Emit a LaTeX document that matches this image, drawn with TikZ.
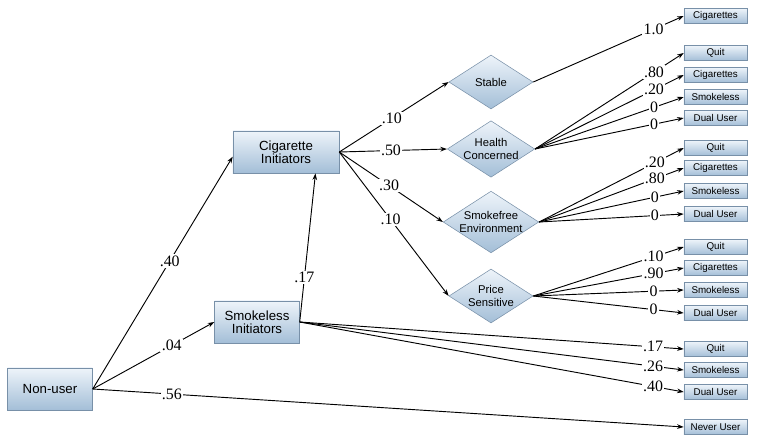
\documentclass[tikz,border=0pt]{standalone}
\usepackage{fontspec}
\setmainfont{Liberation Serif}
\setsansfont{Liberation Sans}
\usepackage{tikz}
\usetikzlibrary{positioning,shapes.geometric,arrows.meta}
\definecolor{boxtop}{HTML}{EEF4FA}
\definecolor{boxbot}{HTML}{A3BED7}
\definecolor{boxline}{HTML}{7890A8}

\begin{document}
\begin{tikzpicture}[x=0.0265cm,y=-0.0265cm,
    box/.style={draw=boxline,top color=boxtop,bottom color=boxbot,align=center,inner sep=0pt,
      minimum width=2.25cm,minimum height=1.12cm,font=\sffamily\fontsize{10}{9.5}\selectfont},
    state/.style={diamond,draw=boxline,top color=boxtop,bottom color=boxbot,align=center,inner sep=0pt,
      shape aspect=1.55,minimum width=2.23cm,minimum height=1.43cm,font=\sffamily\fontsize{8.5}{9.5}\selectfont},
    outcome/.style={draw=boxline,top color=boxtop,bottom color=boxbot,inner sep=0pt,
      minimum width=1.67cm,minimum height=0.4cm,font=\sffamily\fontsize{7.4}{8}\selectfont},
    lbl/.style={fill=white,inner sep=1pt,font=\rmfamily\fontsize{12}{12}\selectfont},
    arr/.style={-{Stealth[length=5pt,width=3.5pt]},line width=0.7pt}]
    \useasboundingbox (0,0) rectangle (757,444);
    % states
    \node[box] (nonuser) at (50,389) {Non-user};
    \node[box,minimum width=2.81cm] (cigi) at (286,152) {Cigarette\\Initiators};
    \node[box] (smki) at (257,322) {Smokeless\\Initiators};
    \node[state] (stable) at (491,82) {Stable};
    \node[state] (health) at (491,149) {Health\\Concerned};
    \node[state] (smokefree) at (491,222) {Smokefree\\Environment};
    \node[state] (price) at (491,296) {Price\\Sensitive};
    % outcomes
    \node[outcome] (stcig) at (715.5,16) {Cigarettes};
    \node[outcome] (hcquit) at (715.5,53) {Quit};
    \node[outcome] (hccig) at (715.5,75) {Cigarettes};
    \node[outcome] (hcsmk) at (715.5,97) {Smokeless};
    \node[outcome] (hcdual) at (715.5,118) {Dual User};
    \node[outcome] (sfquit) at (715.5,148) {Quit};
    \node[outcome] (sfcig) at (715.5,168) {Cigarettes};
    \node[outcome] (sfsmk) at (715.5,191) {Smokeless};
    \node[outcome] (sfdual) at (715.5,214) {Dual User};
    \node[outcome] (psquit) at (715.5,247) {Quit};
    \node[outcome] (pscig) at (715.5,268) {Cigarettes};
    \node[outcome] (pssmk) at (715.5,290) {Smokeless};
    \node[outcome] (psdual) at (715.5,313) {Dual User};
    \node[outcome] (siquit) at (715.5,349) {Quit};
    \node[outcome] (sismk) at (715.5,370) {Smokeless};
    \node[outcome] (sidual) at (715.5,392) {Dual User};
    \node[outcome] (never) at (715.5,427) {Never User};
    % non-user
    \draw[arr] (nonuser.east) -- node[lbl,pos=.55] {.40} (cigi.185);
    \draw[arr] (nonuser.east) -- node[lbl,pos=.65] {.04} (smki.west);
    \draw[arr] (nonuser.east) -- node[lbl,pos=.134] {.56} (never.west);
    \draw[arr] (smki.east) -- node[lbl,pos=.3] {.17} (cigi.324);
    % cigarette initiators
    \draw[arr] (cigi.east) -- node[lbl,pos=.48] {.10} (stable.west);
    \draw[arr] (cigi.east) -- node[lbl,pos=.48] {.50} (health.west);
    \draw[arr] (cigi.east) -- node[lbl,pos=.48] {.30} (smokefree.west);
    \draw[arr] (cigi.east) -- node[lbl,pos=.47] {.10} (price.west);
    % transitions
    \draw[arr] (stable.east) -- node[lbl,pos=.8] {1.0} (stcig.west);
    \draw[arr] (health.east) -- node[lbl,pos=.8] {.80} (hcquit.west);
    \draw[arr] (health.east) -- node[lbl,pos=.8] {.20} (hccig.west);
    \draw[arr] (health.east) -- node[lbl,pos=.8] {0} (hcsmk.west);
    \draw[arr] (health.east) -- node[lbl,pos=.8] {0} (hcdual.west);
    \draw[arr] (smokefree.east) -- node[lbl,pos=.8] {.20} (sfquit.west);
    \draw[arr] (smokefree.east) -- node[lbl,pos=.8] {.80} (sfcig.west);
    \draw[arr] (smokefree.east) -- node[lbl,pos=.8] {0} (sfsmk.west);
    \draw[arr] (smokefree.east) -- node[lbl,pos=.8] {0} (sfdual.west);
    \draw[arr] (price.east) -- node[lbl,pos=.8] {.10} (psquit.west);
    \draw[arr] (price.east) -- node[lbl,pos=.8] {.90} (pscig.west);
    \draw[arr] (price.east) -- node[lbl,pos=.8] {0} (pssmk.west);
    \draw[arr] (price.east) -- node[lbl,pos=.8] {0} (psdual.west);
    % smokeless initiators
    \draw[arr] (smki.east) -- node[lbl,pos=.92] {.17} (siquit.west);
    \draw[arr] (smki.east) -- node[lbl,pos=.92] {.26} (sismk.west);
    \draw[arr] (smki.east) -- node[lbl,pos=.92] {.40} (sidual.west);
\end{tikzpicture}
\end{document}
